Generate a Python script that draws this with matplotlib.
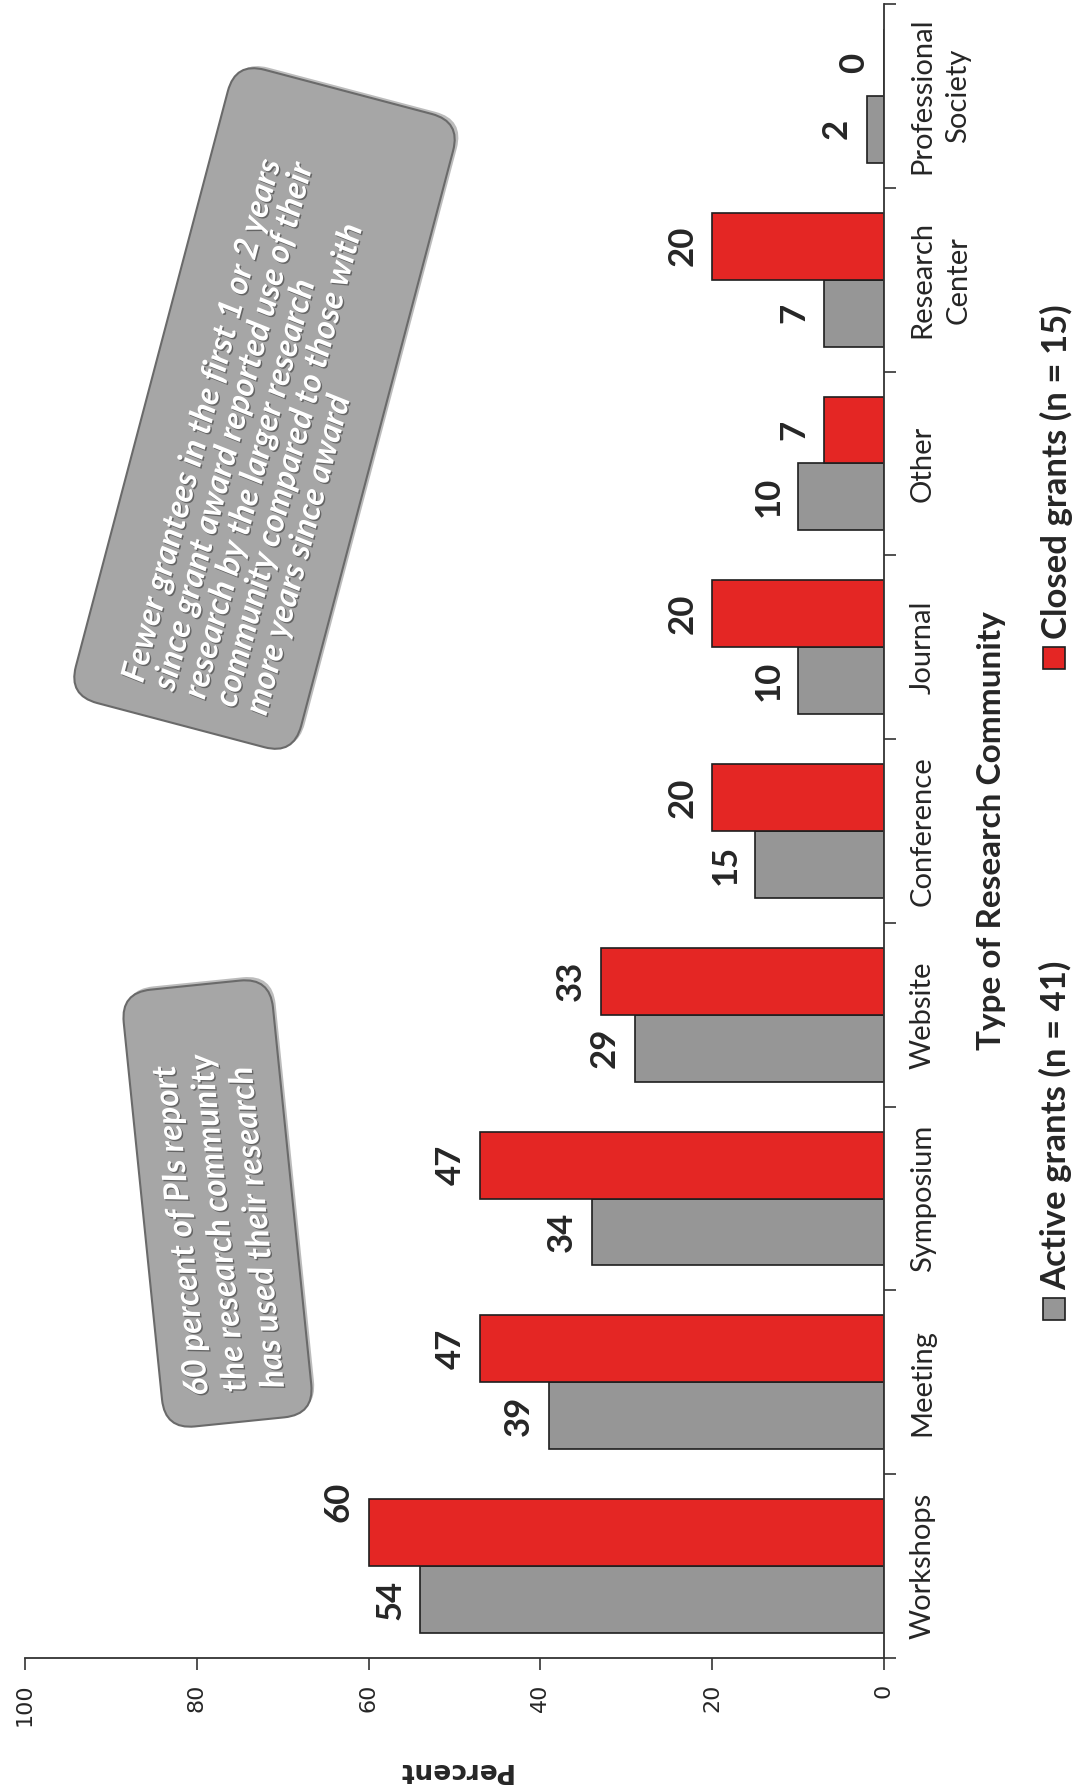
import numpy as np
import matplotlib.pyplot as plt
from matplotlib.patches import FancyBboxPatch, Rectangle
from matplotlib.transforms import Affine2D
import matplotlib.patheffects as pe

# Data
categories = ['Workshops', 'Meeting', 'Symposium', 'Website', 'Conference',
              'Journal', 'Other', 'Research\nCenter', 'Professional\nSociety']
active = [54, 39, 34, 29, 15, 10, 10, 7, 2]
closed = [60, 47, 47, 33, 20, 20, 7, 20, 0]
value_ticks = [0, 20, 40, 60, 80, 100]
series_names = ['Active grants (n = 41)', 'Closed grants (n = 15)']
note_left = ('60 percent of PIs report\n'
             'the research community\n'
             'has used their research')
note_right = ('Fewer grantees in the first 1 or 2 years\n'
              'since grant award reported use of their\n'
              'research by the larger research\n'
              'community compared to those with\n'
              'more years since award')

GRAY = '#969696'
RED = '#e42624'
INK = '#262626'
FONT = 'Lato'

W, H = 1082, 1788
fig = plt.figure(figsize=(W / 100, H / 100), dpi=100)

# page is laid out sideways: bars grow leftwards from the category axis
ax = fig.add_axes([25 / W, 1 - 1658 / H, (884 - 25) / W, (1658 - 4) / H])
pos = np.arange(len(categories))
bh = 0.364
b1 = ax.barh(pos - bh / 2, active, height=bh, color=GRAY, edgecolor='#1e1e1e', lw=1.2)
b2 = ax.barh(pos + bh / 2, closed, height=bh, color=RED, edgecolor='#1e1e1e', lw=1.2)
ax.set_xlim(100, 0)
ax.set_ylim(-0.5, len(categories) - 0.5)

# value labels (the workshops label for closed grants sits a little higher)
nudge = {(1, 0): 22}
for k, (bars, vals) in enumerate([(b1, active), (b2, closed)]):
    for i, (rect, v) in enumerate(zip(bars, vals)):
        yc = rect.get_y() + rect.get_height() / 2
        ax.annotate(str(v), xy=(v, yc), xytext=(-10, nudge.get((k, i), 0)),
                    textcoords='offset points', rotation=90, ha='right',
                    va='center', fontsize=25, fontweight='bold', family=FONT,
                    color=INK)

# axes styling
for s in ['left', 'top']:
    ax.spines[s].set_visible(False)
for s in ['right', 'bottom']:
    ax.spines[s].set_color('#333333')
    ax.spines[s].set_linewidth(1.3)
ax.set_xticks(value_ticks)
ax.set_xticklabels([str(v) for v in value_ticks], rotation=90,
                   family='DejaVu Sans', fontsize=16, color=INK)
ax.tick_params(axis='x', direction='out', length=8.6, width=1.2, pad=10, color='#333333')
ax.yaxis.tick_right()
ax.set_yticks(np.arange(-0.5, len(categories), 1))
ax.tick_params(axis='y', direction='out', length=8.6, width=1.2,
               labelright=False, color='#333333')

# category labels along the right-hand axis
tr = ax.get_yaxis_transform()
for i, name in enumerate(categories):
    ax.text(1.03, i, name, transform=tr, rotation=90, ha='left', va='center',
            multialignment='center', fontsize=21, family=FONT, color=INK,
            linespacing=1.45)

ax.text(1.125, 0.5, 'Type of Research Community', transform=ax.transAxes,
        rotation=90, ha='center', va='center', fontsize=24, fontweight='bold',
        family=FONT, color=INK)
ax.text(0.5, -0.0677, 'Percent', transform=ax.transAxes, rotation=180,
        ha='center', va='center', fontsize=19, fontweight='bold',
        family='DejaVu Sans', color=INK)

# overlay in pixel units for legend and notes
ov = fig.add_axes([0, 0, 1, 1])
ov.set_xlim(0, W)
ov.set_ylim(0, H)
ov.axis('off')

for name, col, ytop in [(series_names[0], GRAY, 1320), (series_names[1], RED, 669)]:
    ov.add_patch(Rectangle((1043, H - ytop), 22, 22, facecolor=col,
                           edgecolor='#1e1e1e', lw=1.2))
    ov.text(1056, H - ytop + 30, name, rotation=90, ha='center', va='bottom',
            fontsize=25, fontweight='bold', family=FONT, color=INK)


def note(cx, cy, length, width, angle, text, size, spacing, pad, shift):
    cy = H - cy
    move = Affine2D().rotate_deg(angle).translate(cx, cy) + ov.transData
    shadow = FancyBboxPatch((-length / 2 + 3, -width / 2 - 3), length, width,
                            boxstyle='round,pad=0,rounding_size=30',
                            facecolor='#7a7a7a', edgecolor='none', alpha=0.5)
    shadow.set_transform(move)
    ov.add_patch(shadow)
    box = FancyBboxPatch((-length / 2, -width / 2), length, width,
                         boxstyle='round,pad=0,rounding_size=30',
                         facecolor='#a6a6a6', edgecolor='#6a6a6a', lw=1.5)
    box.set_transform(move)
    ov.add_patch(box)
    a = np.deg2rad(angle)
    lx, ly = -length / 2 + pad, shift
    x = cx + lx * np.cos(a) - ly * np.sin(a)
    y = cy + lx * np.sin(a) + ly * np.cos(a)
    ov.text(x, y, text, rotation=angle, rotation_mode='anchor', ha='left',
            va='center', multialignment='left', fontsize=size, linespacing=spacing,
            fontweight='bold', style='italic', family=FONT, color='white',
            path_effects=[pe.withSimplePatchShadow(offset=(1, -1),
                                                   shadow_rgbFace='#4a4a4a', alpha=0.7)])


note(217.5, 1203.5, 439, 150, 95.8, note_left, 24, 1.38, 30, 0)
note(264.5, 408.5, 655, 233, 75.2, note_right, 24, 1.12, 30, -7)

fig.savefig('out.png', dpi=100, facecolor='white')
